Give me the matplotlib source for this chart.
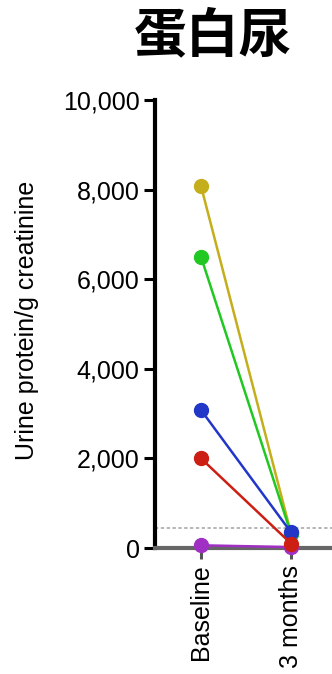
import matplotlib
matplotlib.use("Agg")
import matplotlib.pyplot as plt

title = "蛋白尿"
ylabel = "Urine protein/g creatinine"
timepoints = ["Baseline", "3 months"]
yticks = [0, 2000, 4000, 6000, 8000, 10000]
threshold = 450

patients = ["P5", "P1", "P2", "P3", "P4"]
baseline = [60, 8080, 6500, 3080, 2000]
month3 = [20, 330, 320, 350, 100]
colors = ["#a030c4", "#c4ae1c", "#22c822", "#2236c8", "#cc1e12"]

fig = plt.figure(figsize=(3.32, 6.74), dpi=100)
W, H = 332, 674
ax = fig.add_axes([155 / W, 1 - 548 / H, (332 - 155) / W, (548 - 100) / H])

x = [0, 1]
for i, (b, m, c) in enumerate(zip(baseline, month3, colors)):
    ax.plot(x, [b, m], color=c, lw=1.8, marker="o", ms=10, zorder=3 + i, clip_on=False)

ax.axhline(threshold, color="#aaaaaa", lw=1.2, ls=(0, (2, 1.5)), zorder=1)

ax.set_xlim((155 - 201) / 90, (332 - 201) / 90)
ax.set_ylim(0, 10000)
ax.set_yticks(yticks)
ax.set_yticklabels([f"{v:,}" for v in yticks], family="Liberation Sans", fontsize=18)
ax.set_xticks(x)
ax.set_xticklabels(timepoints, rotation=90, family="Liberation Sans", fontsize=18, va="top")

for s in ["top", "right"]:
    ax.spines[s].set_visible(False)
ax.spines["left"].set_linewidth(3)
ax.spines["left"].set_color("black")
ax.spines["bottom"].set_linewidth(3)
ax.spines["bottom"].set_color("#666666")
ax.tick_params(axis="y", length=8, width=2.2, color="black", pad=3)
ax.tick_params(axis="x", length=8, width=2.2, color="#555555", pad=4)

fig.text(27 / W, 1 - 320 / H, ylabel, rotation=90, ha="center", va="center",
         family="Liberation Sans", fontsize=18)

fig.text(213 / W, 1 - 36 / H, title, ha="center", va="center",
         family=["Noto Sans CJK SC", "DejaVu Sans"], fontweight="bold", fontsize=38)

fig.savefig("out.png", dpi=100)
